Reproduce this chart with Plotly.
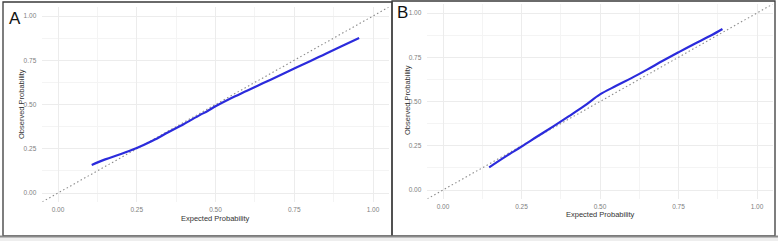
import plotly.graph_objects as go

W, H = 778, 241

# Panel A calibration curve
a_expected = [0.107, 0.15, 0.20, 0.25, 0.30, 0.35, 0.40, 0.45, 0.475, 0.50, 0.546,
              0.60, 0.65, 0.70, 0.75, 0.80, 0.85, 0.90, 0.956]
a_observed = [0.158, 0.19, 0.22, 0.254, 0.295, 0.343, 0.39, 0.44, 0.463, 0.49, 0.533,
              0.578, 0.62, 0.661, 0.703, 0.744, 0.787, 0.829, 0.876]

# Panel B calibration curve
b_expected = [0.147, 0.20, 0.25, 0.30, 0.35, 0.40, 0.45, 0.50, 0.55, 0.60, 0.65,
              0.70, 0.75, 0.80, 0.85, 0.89]
b_observed = [0.128, 0.19, 0.245, 0.302, 0.358, 0.416, 0.475, 0.54, 0.587, 0.632, 0.68,
              0.73, 0.778, 0.825, 0.87, 0.91]

diag = [-0.05, 1.05]
tick_vals = [0, 0.25, 0.5, 0.75, 1.0]
tick_text = ["0.00", "0.25", "0.50", "0.75", "1.00"]

def px_dom_x(a, b):
    return [a / W, b / W]

def px_dom_y(top, bottom):
    return [1 - bottom / H, 1 - top / H]

fig = go.Figure()

blue = "#2b2bdc"
dash_col = "#8c8c8c"

for i, (xs, ys) in enumerate([(a_expected, a_observed), (b_expected, b_observed)]):
    suf = "" if i == 0 else "2"
    fig.add_trace(go.Scatter(x=diag, y=diag, mode="lines",
                             line=dict(color=dash_col, width=1.1, dash="1.5px,2.5px"),
                             xaxis="x" + suf, yaxis="y" + suf, showlegend=False))
    fig.add_trace(go.Scatter(x=xs, y=ys, mode="lines", line=dict(color=blue, width=2.2),
                             line_shape="spline", xaxis="x" + suf, yaxis="y" + suf, showlegend=False))

grid = "#ececec"
axis_common = dict(range=[-0.05, 1.05], tickvals=tick_vals, ticktext=tick_text,
                   showgrid=True, gridcolor=grid, gridwidth=0.8, zeroline=False,
                   showline=False, ticks="", tickfont=dict(size=6.5, color="#808080",
                   family="Liberation Sans"),
                   minor=dict(tickvals=[0.125, 0.375, 0.625, 0.875], showgrid=True,
                              gridcolor="#f4f4f4", gridwidth=0.6),
                   fixedrange=True)

fig.update_layout(
    width=W, height=H, margin=dict(l=0, r=0, t=0, b=0),
    paper_bgcolor="white", plot_bgcolor="white",
    xaxis=dict(domain=px_dom_x(42.25, 388.75), anchor="y", ticklabelstandoff=3, **axis_common),
    yaxis=dict(domain=px_dom_y(7.15, 201.85), anchor="x", ticklabelstandoff=5, **axis_common),
    xaxis2=dict(domain=px_dom_x(427.3, 772.7), anchor="y2", ticklabelstandoff=3, **axis_common),
    yaxis2=dict(domain=px_dom_y(4.15, 198.85), anchor="x2", ticklabelstandoff=5, **axis_common),
)

title_font = dict(size=7.5, color="#333333", family="Liberation Sans")
annos = [
    dict(text="Expected Probability", x=215 / W, y=1 - 218 / H),
    dict(text="Expected Probability", x=600 / W, y=1 - 214 / H),
    dict(text="Observed Probability", x=21 / W, y=1 - 104 / H, textangle=-90),
    dict(text="Observed Probability", x=(390 + 17) / W, y=1 - 100 / H, textangle=-90),
]
for a in annos:
    fig.add_annotation(xref="paper", yref="paper", showarrow=False, font=title_font,
                       xanchor="center", yanchor="middle", **a)

fig.add_annotation(text="A", xref="paper", yref="paper", x=15 / W, y=1 - 19 / H,
                   showarrow=False, xanchor="center", yanchor="middle",
                   font=dict(size=17, color="#111111", family="Liberation Sans"))
fig.add_annotation(text="B", xref="paper", yref="paper", x=402 / W, y=1 - 12 / H,
                   showarrow=False, xanchor="center", yanchor="middle",
                   font=dict(size=17, color="#111111", family="Liberation Sans"))

# panel frames
def px_rect(x0, y0, x1, y1, **kw):
    fig.add_shape(type="rect", xref="paper", yref="paper",
                  x0=x0 / W, x1=x1 / W, y0=1 - y1 / H, y1=1 - y0 / H, **kw)

px_rect(0, 237, 778, 241, line=dict(width=0), fillcolor="#eeeeee", layer="below")
px_rect(3, 2, 392, 236, line=dict(color="#3a3a3a", width=1.3))
px_rect(392, 1, 775, 236, line=dict(color="#3a3a3a", width=1.3))
fig.add_shape(type="line", xref="paper", yref="paper", x0=0, x1=1,
              y0=1 - 236.5 / H, y1=1 - 236.5 / H, line=dict(color="#8a8a8a", width=2))

fig.write_html("out.html", config={"displayModeBar": False},
               post_script="document.body.style.margin='0';document.body.style.overflow='hidden';")
